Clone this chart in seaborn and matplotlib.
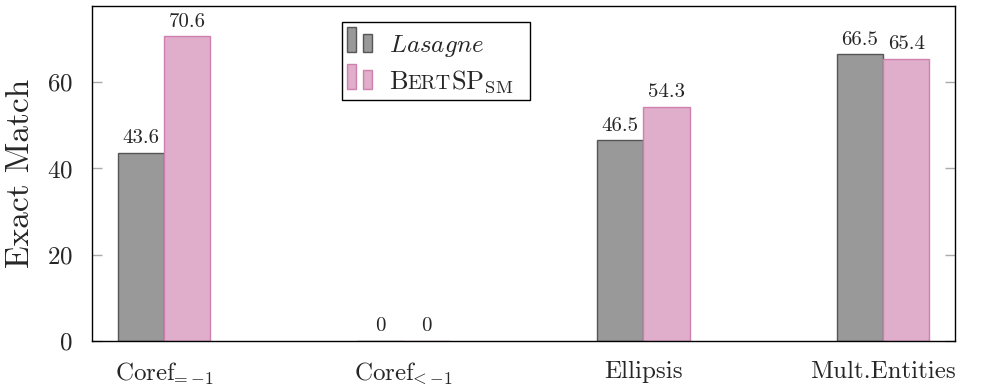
import numpy as np
import pandas as pd
import matplotlib
matplotlib.use('Agg')
import matplotlib.pyplot as plt
import seaborn as sns
from matplotlib.offsetbox import AnchoredOffsetbox, HPacker, VPacker, TextArea, DrawingArea
from matplotlib.patches import Rectangle

categories = ["$\\mathrm{Coref}_{\\!\\!=\\!-\\!1}$", "$\\mathrm{Coref}_{\\!\\!<\\!-\\!1}$", "Ellipsis", "Mult.Entities"]
models = ["Lasagne", "BertSP_SM"]
lasagne = [43.6, 0, 46.5, 66.5]
bertsp = [70.6, 0, 54.3, 65.4]
yticks = [0, 20, 40, 60]

sns.set_theme(style='white')
plt.rcParams.update({'font.family': 'cmr10', 'mathtext.fontset': 'cm',
                     'axes.formatter.use_mathtext': True, 'axes.unicode_minus': False})

df = pd.DataFrame({'category': categories * 2,
                   'model': [models[0]] * 4 + [models[1]] * 4,
                   'value': lasagne + bertsp})

fig = plt.figure(figsize=(10.02, 3.87), dpi=100)
ax = fig.add_axes([92 / 1002, 1 - 341 / 387, (955 - 92) / 1002, (341 - 6) / 387])
fills = ["#999999", "#e0aeca"]
edges = ["#555555", "#cf80ae"]
sns.barplot(data=df, x='category', y='value', hue='model', palette=fills,
            width=0.385, ax=ax, legend=False, saturation=1)
for cont, ec in zip(ax.containers, edges):
    for p in cont:
        p.set_edgecolor(ec)
        p.set_linewidth(1.0)
    ax.bar_label(cont, labels=[f"{v:g}" for v in cont.datavalues], padding=4, fontsize=15)

ax.set_xlim(-0.3, 3.3)
ax.set_ylim(0, 77.66)
ax.set_yticks(yticks)
ax.set_xlabel("")
ax.set_ylabel("Exact Match", fontsize=24, labelpad=8)
ax.tick_params(axis='y', direction='in', left=True, right=True, length=7, width=1,
               color='#aaaaaa', labelsize=18, pad=14)
ax.tick_params(axis='x', length=0, labelsize=18, pad=14)
for s in ax.spines.values():
    s.set_color('black')
    s.set_linewidth(1.0)
    s.set_visible(True)


def handle(fc, ec):
    da = DrawingArea(22, 18, 0, 0)
    da.add_artist(Rectangle((0, 0), 6, 18, fc=fc, ec=ec, lw=1))
    da.add_artist(Rectangle((11, 0), 6.5, 13.5, fc=fc, ec=ec, lw=1))
    return da


row1 = HPacker(children=[handle(fills[0], edges[0]),
                         TextArea("$\\mathit{Lasagne}$", textprops=dict(fontsize=18))],
               align='baseline', pad=0, sep=8)
name2 = HPacker(children=[TextArea("B", textprops=dict(fontsize=19)),
                          TextArea("ERT", textprops=dict(fontsize=14.5)),
                          TextArea("SP$_{\\mathrm{SM}}$", textprops=dict(fontsize=19)),
                          DrawingArea(8, 1, 0, 0)],
                align='baseline', pad=0, sep=0)
row2 = HPacker(children=[handle(fills[1], edges[1]), name2], align='baseline', pad=0, sep=8)
box = VPacker(children=[row1, row2], align='left', pad=0, sep=3)
anch = AnchoredOffsetbox(loc='upper left', child=box, pad=0.35, borderpad=0, frameon=True,
                         bbox_to_anchor=(342 / 1002, 1 - 22 / 387), bbox_transform=fig.transFigure)
anch.patch.set_boxstyle('square', pad=0)
anch.patch.set_edgecolor('black')
anch.patch.set_linewidth(1.0)
ax.add_artist(anch)

fig.savefig('out.png', dpi=100)
